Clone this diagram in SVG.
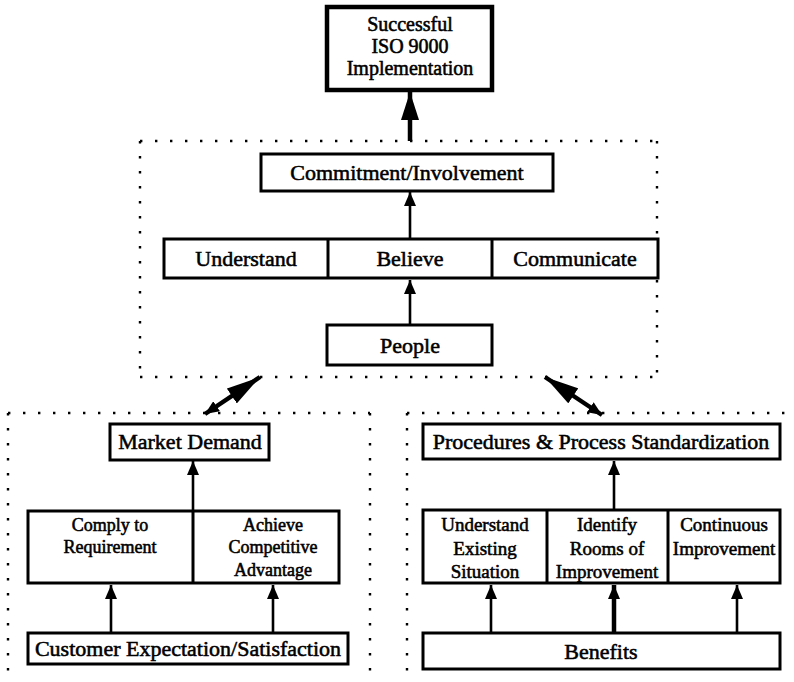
<svg xmlns="http://www.w3.org/2000/svg" width="794" height="682" viewBox="0 0 794 682">
  <style>
    .box { fill: #fff; stroke: #000; stroke-width: 3; }
    .box-heavy { fill: #fff; stroke: #000; stroke-width: 4.5; }
    .div { stroke: #000; stroke-width: 3; }
    .dots { fill: none; stroke: #000; stroke-width: 2.4; stroke-dasharray: 2.4 12.6; }
    .t { font-family: "Liberation Serif", "Times New Roman", serif; fill: #000; stroke: #000; stroke-width: 0.55; text-anchor: middle; }
    .t22 { font-size: 22px; }
    .t20 { font-size: 20px; }
    .t19 { font-size: 19px; }
    .t18 { font-size: 18px; }
    .link { stroke: #000; stroke-width: 2.6; fill: none; }
    .link-heavy { stroke: #000; stroke-width: 4.5; fill: none; }
  </style>
  <defs>
    <marker id="head" markerUnits="userSpaceOnUse" markerWidth="14" markerHeight="12" refX="14" refY="6" orient="auto">
      <path d="M0,0 L14,6 L0,12 z" fill="#000"/>
    </marker>
    <marker id="head-big" markerUnits="userSpaceOnUse" markerWidth="28" markerHeight="18" refX="28" refY="9" orient="auto">
      <path d="M0,0 L28,9 L0,18 z" fill="#000"/>
    </marker>
    <marker id="head-diag" markerUnits="userSpaceOnUse" markerWidth="34" markerHeight="18" refX="34" refY="9" orient="auto">
      <path d="M0,0 L34,9 L0,18 z" fill="#000"/>
    </marker>
    <marker id="head-tail" markerUnits="userSpaceOnUse" markerWidth="14" markerHeight="12" refX="14" refY="6" orient="auto-start-reverse">
      <path d="M0,0 L14,6 L0,12 z" fill="#000"/>
    </marker>
  </defs>

  <rect width="794" height="682" fill="#fff"/>

  <!-- dotted grouping frames -->
  <g id="frames">
    <path class="dots" d="M140,141 H657 M140,141 V377 M657,141 V240 M657,280 V377 M140,377 H657"/>
    <path class="dots" d="M8,413 H370 M8,413 V682 M370,413 V682"/>
    <path class="dots" d="M407,413 H794 M407,413 V682"/>
  </g>

  <!-- connectors -->
  <g id="connectors">
    <line class="link-heavy" x1="410" y1="141" x2="410" y2="92" marker-end="url(#head-big)"/>
    <line class="link" x1="410" y1="238" x2="410" y2="192" marker-end="url(#head)"/>
    <line class="link" x1="410" y1="324" x2="410" y2="280" marker-end="url(#head)"/>
    <line class="link-heavy" x1="205" y1="414" x2="260" y2="377" marker-start="url(#head-tail)" marker-end="url(#head-diag)"/>
    <line class="link-heavy" x1="602" y1="415" x2="545" y2="377" marker-start="url(#head-tail)" marker-end="url(#head-diag)"/>
    <line class="link" x1="193" y1="511" x2="193" y2="461" marker-end="url(#head)"/>
    <line class="link" x1="111" y1="632" x2="111" y2="585" marker-end="url(#head)"/>
    <line class="link" x1="273" y1="632" x2="273" y2="585" marker-end="url(#head)"/>
    <line class="link" x1="614" y1="509" x2="614" y2="461" marker-end="url(#head)"/>
    <line class="link" x1="491" y1="632" x2="491" y2="585" marker-end="url(#head)"/>
    <line class="link-heavy" x1="614" y1="632" x2="614" y2="585" marker-end="url(#head)"/>
    <line class="link" x1="737" y1="632" x2="737" y2="585" marker-end="url(#head)"/>
  </g>

  <!-- goal -->
  <g id="iso-implementation">
    <rect class="box-heavy" x="327" y="7" width="165" height="83"/>
    <text class="t t20" x="410" y="31">Successful</text>
    <text class="t t20" x="410" y="53">ISO 9000</text>
    <text class="t t20" x="410" y="75">Implementation</text>
  </g>

  <!-- people block -->
  <g id="commitment">
    <rect class="box" x="261" y="154" width="292" height="37"/>
    <text class="t t22" x="407" y="180">Commitment/Involvement</text>
  </g>
  <g id="people-row">
    <rect class="box" x="164" y="239" width="494" height="39"/>
    <line class="div" x1="328" y1="239" x2="328" y2="278"/>
    <line class="div" x1="492" y1="239" x2="492" y2="278"/>
    <text class="t t22" x="246" y="266">Understand</text>
    <text class="t t22" x="410" y="266">Believe</text>
    <text class="t t22" x="575" y="266">Communicate</text>
  </g>
  <g id="people">
    <rect class="box" x="327" y="325" width="165" height="40"/>
    <text class="t t22" x="410" y="353">People</text>
  </g>

  <!-- market block -->
  <g id="market-demand">
    <rect class="box" x="110" y="424" width="159" height="36"/>
    <text class="t t22" x="190" y="449">Market Demand</text>
  </g>
  <g id="market-row">
    <rect class="box" x="28" y="511" width="311" height="72"/>
    <line class="div" x1="193" y1="511" x2="193" y2="583"/>
    <text class="t t18" x="110" y="531">Comply to</text>
    <text class="t t18" x="110" y="553">Requirement</text>
    <text class="t t18" x="273" y="531">Achieve</text>
    <text class="t t18" x="273" y="553">Competitive</text>
    <text class="t t18" x="273" y="576">Advantage</text>
  </g>
  <g id="customer">
    <rect class="box" x="28" y="633" width="320" height="31"/>
    <text class="t t22" x="188" y="656">Customer Expectation/Satisfaction</text>
  </g>

  <!-- process block -->
  <g id="procedures">
    <rect class="box" x="423" y="424" width="357" height="35"/>
    <text class="t t22" x="601" y="449">Procedures &amp; Process Standardization</text>
  </g>
  <g id="process-row">
    <rect class="box" x="423" y="510" width="357" height="73"/>
    <line class="div" x1="547" y1="510" x2="547" y2="583"/>
    <line class="div" x1="668" y1="510" x2="668" y2="583"/>
    <text class="t t19" x="485" y="531">Understand</text>
    <text class="t t19" x="485" y="555">Existing</text>
    <text class="t t19" x="485" y="578">Situation</text>
    <text class="t t19" x="607" y="531">Identify</text>
    <text class="t t19" x="607" y="555">Rooms of</text>
    <text class="t t19" x="607" y="578">Improvement</text>
    <text class="t t19" x="724" y="531">Continuous</text>
    <text class="t t19" x="724" y="555">Improvement</text>
  </g>
  <g id="benefits">
    <rect class="box" x="423" y="633" width="357" height="36"/>
    <text class="t t22" x="601" y="659">Benefits</text>
  </g>
</svg>
